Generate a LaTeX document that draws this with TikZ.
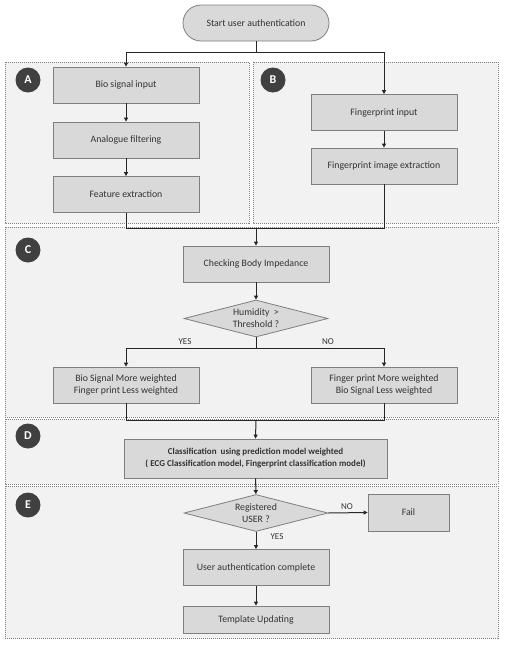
\documentclass[tikz,border=0pt]{standalone}
\usepackage{fontspec}
\setmainfont{Carlito}
\usetikzlibrary{arrows.meta,shapes.geometric}
\definecolor{panelfill}{HTML}{F2F2F2}
\definecolor{boxfill}{HTML}{D9D9D9}
\definecolor{boxline}{HTML}{7F7F7F}
\definecolor{badge}{HTML}{404040}
\begin{document}
\begin{tikzpicture}[x=1pt,y=-1pt,
  panel/.style={draw=boxline,fill=panelfill,line width=0.5pt,dash pattern=on 1pt off 1pt},
  procbox/.style={draw=boxline,fill=boxfill,line width=0.8pt,minimum width=146pt,minimum height=36pt,inner sep=1pt,align=center,font=\fontsize{9.8}{12}\selectfont,text=black!80},
  decision/.style={diamond,aspect=4,draw=boxline,fill=boxfill,line width=0.8pt,inner sep=0pt,minimum width=144pt,minimum height=37pt,align=center,font=\fontsize{9.8}{12}\selectfont,text=black!80},
  badgec/.style={circle,fill=badge,text=white,minimum size=25pt,inner sep=0pt,font=\fontsize{12}{12}\selectfont\bfseries},
  conn/.style={draw=black!85,line width=1pt},
  arr/.style={conn,-{Triangle[length=4pt,width=4pt]}},
  lbl/.style={font=\fontsize{9}{10}\selectfont,text=black!80,inner sep=1pt}]
\useasboundingbox (0,0) rectangle (507,645);
\fill[white] (0,0) rectangle (507,645);
% panels
\draw[panel] (5,62) rectangle (249,223);
\draw[panel] (253,62) rectangle (498,223);
\draw[panel] (5,227) rectangle (498,417);
\draw[panel] (5,419) rectangle (498,484);
\draw[panel] (5,486) rectangle (498,638);
% badges
\node[badgec] (ba) at (28,80) {A};
\node[badgec] (bb) at (273,80) {B};
\node[badgec] (bc) at (28,250) {C};
\node[badgec] (bd) at (28,436) {D};
\node[badgec] (be) at (28,505) {E};
% nodes
\node[procbox,rounded corners=18pt] (start) at (256,23) {Start user authentication};
\node[procbox] (bio) at (126,85) {Bio signal input};
\node[procbox] (filt) at (126,140) {Analogue filtering};
\node[procbox] (feat) at (126,194.5) {Feature extraction};
\node[procbox] (fp) at (384,112.5) {Fingerprint input};
\node[procbox] (fpx) at (384,166) {Fingerprint image extraction};
\node[procbox] (cbi) at (256,264) {Checking Body Impedance};
\node[decision] (hum) at (256,318.5) {Humidity \ >\\Threshold ?};
\node[procbox] (yesb) at (126,385) {Bio Signal More weighted\\Finger print Less weighted};
\node[procbox] (nob) at (384,385) {Finger print More weighted\\Bio Signal Less weighted};
\node[procbox,minimum width=263pt,minimum height=39pt,font=\fontsize{9}{12}\selectfont\bfseries] (cls) at (255.5,458.5) {Classification \ using prediction model weighted\\( ECG Classification model, Fingerprint classification model)};
\node[decision] (reg) at (256,513) {Registered\\USER ?};
\node[procbox,minimum width=81pt,minimum height=37pt] (fail) at (408.5,512.5) {Fail};
\node[procbox] (uac) at (256,567.5) {User authentication complete};
\node[procbox,minimum height=27pt] (tmp) at (256,619.5) {Template Updating};
% junctions
\coordinate (j1) at (256,52);
\coordinate (j2) at (256,228);
\coordinate (j3) at (256,348);
\coordinate (j4) at (256,420);
% connectors
\draw[conn] (start.south) -- (j1);
\draw[arr] (j1) -| (bio.north);
\draw[arr] (j1) -| (fp.north);
\draw[arr] (bio) -- (filt);
\draw[arr] (filt) -- (feat);
\draw[arr] (fp) -- (fpx);
\draw[conn] (feat.south) -- (feat.south |- j2) -- (fpx.south |- j2) -- (fpx.south);
\draw[arr] (j2) -- (cbi.north);
\draw[arr] (cbi) -- (hum);
\draw[conn] (hum.south) -- (j3);
\draw[arr] (j3) -| (yesb.north);
\draw[arr] (j3) -| (nob.north);
\node[lbl] (lyes) at (185,342) {YES};
\node[lbl] (lno) at (328,342) {NO};
\draw[conn] (yesb.south) -- (yesb.south |- j4) -- (nob.south |- j4) -- (nob.south);
\draw[arr] (j4) -- (cls.north);
\draw[arr] (cls) -- (reg);
\draw[arr] (reg.east) -- (fail.west);
\node[lbl] (lno2) at (347,507) {NO};
\draw[arr] (reg.south) -- (uac.north);
\node[lbl] (lyes2) at (277,537) {YES};
\draw[arr] (uac) -- (tmp);
\end{tikzpicture}
\end{document}
